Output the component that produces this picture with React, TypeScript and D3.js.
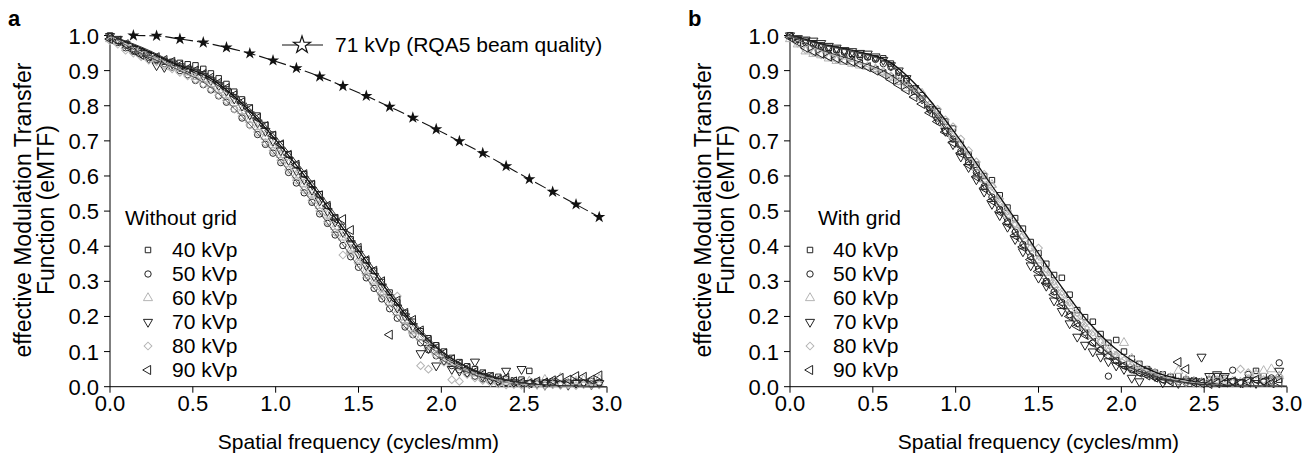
import React from 'react';
import * as d3 from 'd3';

// ---------- data ----------
const FREQ = [0, 0.047, 0.094, 0.141, 0.188, 0.234, 0.281, 0.328, 0.375, 0.422, 0.469, 0.516, 0.563, 0.609, 0.656, 0.703, 0.75, 0.797, 0.844, 0.891, 0.938, 0.984, 1.031, 1.078, 1.125, 1.172, 1.219, 1.266, 1.313, 1.359, 1.406, 1.453, 1.5, 1.547, 1.594, 1.641, 1.688, 1.734, 1.781, 1.828, 1.875, 1.922, 1.969, 2.016, 2.063, 2.109, 2.156, 2.203, 2.25, 2.297, 2.344, 2.391, 2.438, 2.484, 2.531, 2.578, 2.625, 2.672, 2.719, 2.766, 2.813, 2.859, 2.906, 2.953];

const FIT_FREQ = [0, 0.2, 0.4, 0.6, 0.8, 1.0, 1.2, 1.4, 1.6, 1.8, 2.0, 2.2, 2.4, 2.6, 2.8, 3.0];

const RQA5_FREQ = [0.141, 0.281, 0.422, 0.563, 0.703, 0.844, 0.984, 1.125, 1.266, 1.406, 1.547, 1.688, 1.828, 1.969, 2.109, 2.25, 2.391, 2.531, 2.672, 2.813, 2.953];
const RQA5_MTF = [1.0, 0.999, 0.99, 0.98, 0.966, 0.949, 0.929, 0.907, 0.883, 0.856, 0.828, 0.797, 0.766, 0.733, 0.699, 0.665, 0.628, 0.591, 0.555, 0.519, 0.483];

const SERIES_LABELS = ['40 kVp', '50 kVp', '60 kVp', '70 kVp', '80 kVp', '90 kVp'];

// panel a: without grid
const A40 = [1.0,0.985,0.972,0.962,0.955,0.945,0.932,0.928,0.925,0.922,0.918,0.915,0.905,0.892,0.878,0.862,0.84,0.818,0.795,0.772,0.745,0.718,0.69,0.662,0.632,0.605,0.578,0.548,0.515,0.482,0.455,0.42,0.392,0.36,0.33,0.298,0.268,0.24,0.21,0.185,0.158,0.138,0.118,0.1,0.082,0.07,0.058,0.05,0.04,0.032,0.028,0.022,0.018,0.02,0.045,0.014,0.012,0.015,0.01,0.012,0.014,0.01,0.016,0.012];
const A50 = [0.995,0.98,0.965,0.955,0.95,0.938,0.928,0.92,0.91,0.9,0.888,0.872,0.86,0.845,0.828,0.81,0.79,0.765,0.745,0.718,0.69,0.665,0.638,0.61,0.58,0.552,0.525,0.492,0.465,0.432,0.402,0.37,0.34,0.31,0.28,0.25,0.222,0.195,0.17,0.148,0.125,0.105,0.088,0.072,0.06,0.048,0.038,0.03,0.022,0.018,0.015,0.012,0.01,0.008,0.01,0.008,0.01,0.012,0.008,0.01,0.012,0.01,0.008,0.01];
const A60 = [0.99,0.982,0.97,0.96,0.948,0.94,0.93,0.918,0.91,0.905,0.895,0.882,0.875,0.862,0.845,0.83,0.808,0.785,0.76,0.74,0.712,0.688,0.66,0.635,0.602,0.578,0.548,0.515,0.488,0.455,0.425,0.39,0.36,0.33,0.3,0.27,0.24,0.212,0.19,0.16,0.14,0.115,0.1,0.08,0.068,0.055,0.045,0.038,0.03,0.022,0.02,0.015,0.012,0.01,0.015,0.008,0.02,0.012,0.025,0.01,0.015,0.02,0.012,0.022];
const A70 = [0.998,0.99,0.975,0.962,0.95,0.935,0.915,0.91,0.92,0.912,0.905,0.895,0.885,0.872,0.858,0.842,0.82,0.8,0.775,0.752,0.728,0.7,0.672,0.645,0.615,0.59,0.56,0.53,0.5,0.47,0.44,0.408,0.378,0.345,0.315,0.285,0.255,0.225,0.2,0.172,0.095,0.11,0.06,0.075,0.05,0.045,0.04,0.071,0.03,0.02,0.015,0.045,0.012,0.05,0.01,0.008,0.005,0.01,0.008,0.005,0.01,0.012,0.006,0.01];
const A80 = [0.985,0.975,0.958,0.95,0.94,0.93,0.925,0.915,0.905,0.895,0.885,0.875,0.862,0.848,0.83,0.815,0.79,0.77,0.745,0.725,0.695,0.672,0.645,0.618,0.588,0.56,0.53,0.5,0.47,0.44,0.375,0.38,0.35,0.318,0.29,0.26,0.262,0.258,0.175,0.15,0.06,0.05,0.09,0.07,0.02,0.015,0.035,0.025,0.018,0.012,0.008,0.005,0.006,0.004,0.008,0.005,0.003,0.006,0.004,0.005,0.003,0.006,0.004,0.005];
const A90 = [0.99,0.985,0.975,0.958,0.945,0.942,0.938,0.93,0.925,0.915,0.905,0.9,0.89,0.88,0.865,0.85,0.83,0.81,0.79,0.765,0.742,0.715,0.69,0.66,0.632,0.605,0.575,0.545,0.515,0.478,0.477,0.446,0.395,0.36,0.33,0.3,0.148,0.245,0.21,0.19,0.16,0.13,0.11,0.095,0.078,0.065,0.052,0.042,0.035,0.028,0.02,0.025,0.015,0.012,0.01,0.015,0.012,0.018,0.025,0.02,0.03,0.028,0.02,0.032];

const FIT_A40 = [1.0,0.962,0.918,0.88,0.805,0.703,0.585,0.455,0.322,0.196,0.10,0.046,0.018,0.005,0.001,0];
const FIT_A50 = [1.0,0.946,0.905,0.855,0.768,0.66,0.538,0.408,0.276,0.16,0.078,0.034,0.012,0.003,0.001,0];
const FIT_A60 = [1.0,0.955,0.912,0.87,0.79,0.685,0.565,0.435,0.302,0.18,0.09,0.04,0.015,0.004,0.001,0];
const FIT_A70 = [1.0,0.958,0.915,0.875,0.798,0.694,0.575,0.445,0.312,0.188,0.095,0.043,0.016,0.004,0.001,0];
const FIT_A80 = [1.0,0.95,0.908,0.862,0.78,0.673,0.552,0.422,0.29,0.17,0.084,0.037,0.013,0.003,0.001,0];
const FIT_A90 = [1.0,0.965,0.921,0.885,0.812,0.712,0.595,0.465,0.332,0.204,0.104,0.048,0.019,0.006,0.002,0];

// panel b: with grid
const B40 = [1.0,0.99,0.985,0.978,0.972,0.965,0.96,0.955,0.948,0.945,0.94,0.935,0.935,0.92,0.885,0.87,0.84,0.83,0.79,0.785,0.755,0.735,0.69,0.66,0.632,0.6,0.588,0.545,0.51,0.48,0.45,0.412,0.38,0.35,0.318,0.31,0.262,0.218,0.198,0.185,0.15,0.125,0.133,0.1,0.08,0.065,0.05,0.04,0.035,0.028,0.03,0.02,0.018,0.015,0.02,0.03,0.025,0.015,0.012,0.02,0.045,0.03,0.015,0.02];
const B50 = [1.0,0.988,0.98,0.975,0.968,0.962,0.958,0.952,0.945,0.94,0.938,0.932,0.92,0.91,0.895,0.875,0.848,0.82,0.795,0.765,0.73,0.705,0.67,0.64,0.61,0.57,0.54,0.505,0.47,0.44,0.405,0.37,0.335,0.3,0.27,0.24,0.205,0.18,0.155,0.125,0.105,0.03,0.075,0.06,0.048,0.04,0.035,0.028,0.02,0.018,0.015,0.012,0.01,0.012,0.01,0.015,0.01,0.047,0.012,0.035,0.02,0.015,0.025,0.068];
const B60 = [0.99,0.975,0.955,0.948,0.944,0.935,0.928,0.925,0.92,0.915,0.911,0.905,0.897,0.88,0.868,0.85,0.83,0.835,0.8,0.77,0.745,0.715,0.69,0.655,0.625,0.59,0.575,0.525,0.49,0.46,0.43,0.395,0.36,0.325,0.29,0.26,0.23,0.2,0.17,0.145,0.125,0.1,0.085,0.125,0.08,0.06,0.045,0.038,0.03,0.025,0.045,0.02,0.015,0.012,0.02,0.01,0.018,0.015,0.012,0.02,0.035,0.045,0.05,0.03];
const B70 = [1.0,0.992,0.988,0.985,0.978,0.97,0.965,0.958,0.955,0.95,0.948,0.94,0.93,0.915,0.9,0.878,0.85,0.82,0.79,0.76,0.728,0.69,0.655,0.625,0.59,0.555,0.52,0.488,0.455,0.42,0.385,0.345,0.31,0.287,0.245,0.215,0.18,0.142,0.119,0.1,0.085,0.072,0.06,0.05,0.025,0.015,0.045,0.03,0.012,0.02,0.01,0.015,0.015,0.085,0.03,0.035,0.03,0.015,0.012,0.018,0.01,0.015,0.02,0.045];
const B80 = [0.995,0.978,0.96,0.952,0.945,0.94,0.932,0.928,0.922,0.918,0.912,0.905,0.895,0.885,0.87,0.86,0.845,0.82,0.805,0.79,0.76,0.74,0.705,0.672,0.64,0.605,0.57,0.535,0.5,0.465,0.43,0.395,0.395,0.335,0.3,0.27,0.24,0.21,0.18,0.155,0.13,0.11,0.09,0.075,0.06,0.05,0.04,0.035,0.03,0.02,0.015,0.012,0.01,0.008,0.01,0.02,0.015,0.01,0.05,0.04,0.035,0.02,0.015,0.03];
const B90 = [0.995,0.982,0.965,0.955,0.948,0.94,0.935,0.93,0.925,0.918,0.91,0.9,0.89,0.875,0.86,0.845,0.825,0.805,0.78,0.755,0.725,0.695,0.665,0.632,0.598,0.565,0.53,0.498,0.465,0.43,0.398,0.362,0.328,0.295,0.262,0.232,0.2,0.172,0.148,0.125,0.105,0.088,0.072,0.06,0.05,0.04,0.032,0.026,0.02,0.015,0.07,0.05,0.012,0.01,0.008,0.01,0.012,0.015,0.01,0.012,0.02,0.015,0.01,0.012];

const FIT_B40 = [1.0,0.975,0.955,0.925,0.84,0.72,0.585,0.45,0.31,0.185,0.095,0.042,0.017,0.006,0.002,0.001];
const FIT_B50 = [1.0,0.972,0.952,0.918,0.825,0.70,0.56,0.418,0.275,0.15,0.07,0.03,0.012,0.004,0.002,0.001];
const FIT_B60 = [1.0,0.953,0.922,0.885,0.82,0.71,0.575,0.435,0.29,0.165,0.08,0.035,0.014,0.005,0.002,0.001];
const FIT_B70 = [1.0,0.975,0.955,0.92,0.82,0.69,0.545,0.40,0.258,0.135,0.06,0.025,0.01,0.004,0.002,0.001];
const FIT_B80 = [1.0,0.955,0.925,0.888,0.82,0.712,0.58,0.44,0.298,0.172,0.085,0.038,0.015,0.005,0.002,0.001];
const FIT_B90 = [1.0,0.957,0.928,0.89,0.812,0.695,0.556,0.415,0.272,0.148,0.068,0.029,0.011,0.004,0.002,0.001];

const X_TICKS = [0, 0.5, 1.0, 1.5, 2.0, 2.5, 3.0];
const Y_TICKS = [0, 0.1, 0.2, 0.3, 0.4, 0.5, 0.6, 0.7, 0.8, 0.9, 1.0];

// ---------- styles ----------
const FONT = "'Liberation Sans', Arial, Helvetica, sans-serif";
const MARKERS = ['square', 'circle', 'triUp', 'triDown', 'diamond', 'triLeft'];
const MARKER_COLORS = ['#222', '#222', '#b4b4b4', '#222', '#b4b4b4', '#222'];
const FIT_STYLES = [
  { stroke: '#111', dash: undefined, width: 1.3 },
  { stroke: '#555', dash: undefined, width: 1 },
  { stroke: '#aaa', dash: '6,3', width: 1 },
  { stroke: '#222', dash: '5,3', width: 1 },
  { stroke: '#bbb', dash: '7,3,2,3', width: 1 },
  { stroke: '#333', dash: undefined, width: 1 },
];

function markerPath(kind: string): { d: string; rot: number } {
  switch (kind) {
    case 'square': return { d: d3.symbol(d3.symbolSquare, 30)() as string, rot: 0 };
    case 'circle': return { d: d3.symbol(d3.symbolCircle, 32)() as string, rot: 0 };
    case 'triUp': return { d: d3.symbol(d3.symbolTriangle, 36)() as string, rot: 0 };
    case 'triDown': return { d: d3.symbol(d3.symbolTriangle, 36)() as string, rot: 180 };
    case 'diamond': return { d: d3.symbol(d3.symbolSquare, 30)() as string, rot: 45 };
    default: return { d: d3.symbol(d3.symbolTriangle, 36)() as string, rot: -90 };
  }
}

type PanelProps = {
  ox: number;
  letter: string;
  title: string;
  series: number[][];
  fits: number[][];
  legendX: { title: number; marker: number; text: number };
  showRqa5: boolean;
};

const Y0 = 386.7;
const Y1 = 35.5;

function Panel({ ox, letter, title, series, fits, legendX, showRqa5 }: PanelProps) {
  const x = d3.scaleLinear().domain([0, 3]).range([ox + 110, ox + 607]);
  const y = d3.scaleLinear().domain([0, 1]).range([Y0, Y1]);
  const fitLine = d3.line<[number, number]>()
    .x((d) => x(d[0]))
    .y((d) => y(d[1]))
    .curve(d3.curveMonotoneX);
  const star = d3.symbol(d3.symbolStar, 46)() as string;
  const starLegend = d3.symbol(d3.symbolStar, 90)() as string;

  const legendRows = SERIES_LABELS.map((_, i) => 250 + i * 24);

  return (
    <g>
      <text x={ox + 8} y={26} fontFamily={FONT} fontWeight="bold" fontSize={22}>{letter}</text>
      {/* y label */}
      <text transform={`translate(${ox + 31},${210}) rotate(-90)`} textAnchor="middle" fontFamily={FONT} fontSize={23}>effective Modulation Transfer</text>
      <text transform={`translate(${ox + 54},${210}) rotate(-90)`} textAnchor="middle" fontFamily={FONT} fontSize={23}>Function (eMTF)</text>
      {/* axes */}
      <line x1={x(0)} x2={x(0)} y1={y(0)} y2={y(1)} stroke="#000" strokeWidth={1} />
      <line x1={x(0)} x2={x(3)} y1={y(0)} y2={y(0)} stroke="#000" strokeWidth={1} />
      {Y_TICKS.map((t) => (
        <g key={'y' + t}>
          <line x1={x(0) - 6} x2={x(0)} y1={y(t)} y2={y(t)} stroke="#000" />
          <text x={x(0) - 11} y={y(t) + 8} textAnchor="end" fontFamily={FONT} fontSize={22}>{t.toFixed(1)}</text>
        </g>
      ))}
      {X_TICKS.map((t) => (
        <g key={'x' + t}>
          <line x1={x(t)} x2={x(t)} y1={y(0)} y2={y(0) + 6} stroke="#000" />
          <text x={x(t)} y={411} textAnchor="middle" fontFamily={FONT} fontSize={22}>{t.toFixed(1)}</text>
        </g>
      ))}
      <text x={x(1.5)} y={449} textAnchor="middle" fontFamily={FONT} fontSize={21}>Spatial frequency (cycles/mm)</text>

      {/* scatter */}
      {series.map((vals, si) => {
        const m = markerPath(MARKERS[si]);
        return (
          <g key={'s' + si}>
            {vals.map((v, i) => (
              <path
                key={i}
                d={m.d}
                transform={`translate(${x(FREQ[i])},${y(v)}) rotate(${m.rot})`}
                fill="none"
                stroke={MARKER_COLORS[si]}
                strokeWidth={1}
              />
            ))}
          </g>
        );
      })}
      {/* fits */}
      {fits.map((vals, si) => (
        <path
          key={'f' + si}
          d={fitLine(FIT_FREQ.map((f, i) => [f, vals[i]] as [number, number])) as string}
          fill="none"
          stroke={FIT_STYLES[si].stroke}
          strokeWidth={FIT_STYLES[si].width}
          strokeDasharray={FIT_STYLES[si].dash}
        />
      ))}

      {showRqa5 && (
        <g>
          <path
            d={fitLine(RQA5_FREQ.map((f, i) => [f, RQA5_MTF[i]] as [number, number])) as string}
            fill="none"
            stroke="#111"
            strokeWidth={1.1}
            strokeDasharray="12,4"
          />
          {RQA5_FREQ.map((f, i) => (
            <path key={'st' + i} d={star} transform={`translate(${x(f)},${y(RQA5_MTF[i])})`} fill="#111" />
          ))}
          <line x1={ox + 282} x2={ox + 323} y1={45} y2={45} stroke="#111" strokeWidth={1.2} />
          <path d={starLegend} transform={`translate(${ox + 302},${45})`} fill="#fff" stroke="#111" strokeWidth={1.2} />
          <text x={ox + 335} y={52} fontFamily={FONT} fontSize={21}>71 kVp (RQA5 beam quality)</text>
        </g>
      )}

      {/* legend */}
      <text x={legendX.title} y={225} fontFamily={FONT} fontSize={21}>{title}</text>
      {SERIES_LABELS.map((lab, i) => {
        const m = markerPath(MARKERS[i]);
        return (
          <g key={'l' + i}>
            <path d={m.d} transform={`translate(${legendX.marker},${legendRows[i]}) rotate(${m.rot})`} fill="none" stroke={MARKER_COLORS[i]} strokeWidth={1} />
            <text x={legendX.text} y={legendRows[i] + 7} fontFamily={FONT} fontSize={21}>{lab}</text>
          </g>
        );
      })}
    </g>
  );
}

export default function App() {
  return (
    <div style={{ position: 'fixed', left: 0, top: 0 }}>
      <svg width={1315} height={459} style={{ display: 'block', background: '#fff' }}>
        <rect x={0} y={0} width={1315} height={459} fill="#fff" />
        <Panel
          ox={0}
          letter="a"
          title="Without grid"
          series={[A40, A50, A60, A70, A80, A90]}
          fits={[FIT_A40, FIT_A50, FIT_A60, FIT_A70, FIT_A80, FIT_A90]}
          legendX={{ title: 125, marker: 148, text: 172 }}
          showRqa5={true}
        />
        <Panel
          ox={680}
          letter="b"
          title="With grid"
          series={[B40, B50, B60, B70, B80, B90]}
          fits={[FIT_B40, FIT_B50, FIT_B60, FIT_B70, FIT_B80, FIT_B90]}
          legendX={{ title: 818, marker: 810, text: 833 }}
          showRqa5={false}
        />
      </svg>
    </div>
  );
}
